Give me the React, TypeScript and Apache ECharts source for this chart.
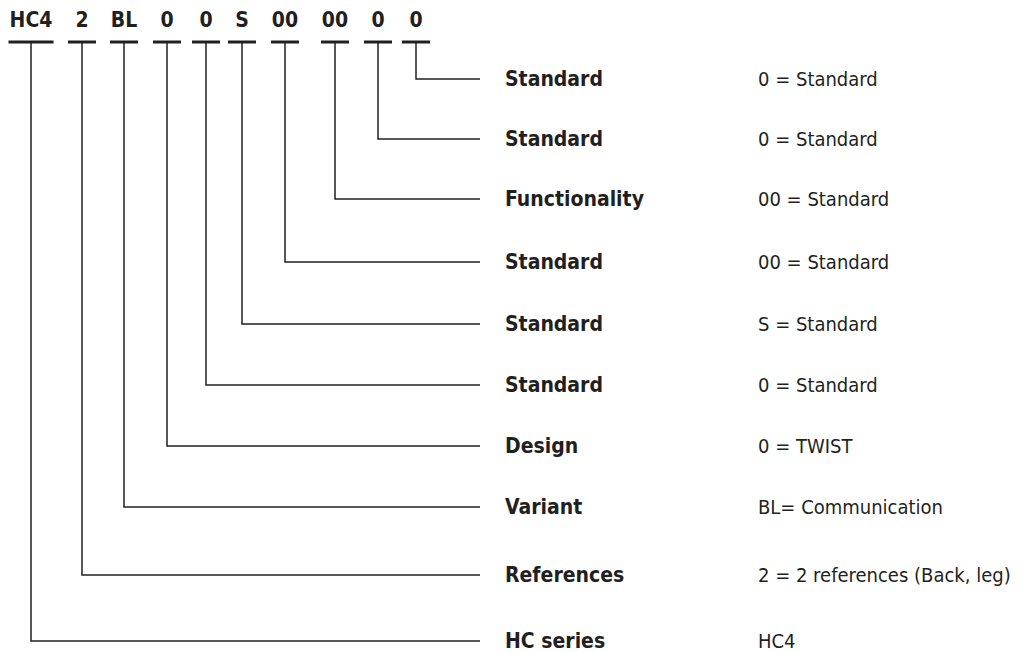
import React, { useEffect, useRef } from "react";
import * as echarts from "echarts";

// ---- data ----
const codes = ["HC4", "2", "BL", "0", "0", "S", "00", "00", "0", "0"];
const labels = [
  "HC series",
  "References",
  "Variant",
  "Design",
  "Standard",
  "Standard",
  "Standard",
  "Functionality",
  "Standard",
  "Standard",
];
const values = [
  "HC4",
  "2 = 2 references (Back, leg)",
  "BL= Communication",
  "0 = TWIST",
  "0 = Standard",
  "S = Standard",
  "00 = Standard",
  "00 = Standard",
  "0 = Standard",
  "0 = Standard",
];

// ---- layout (pixel-like units on hidden axes) ----
const W = 1023;
const H = 653;
const codeX = [31, 82, 124, 167, 206, 242, 285, 335, 378, 416];
const rowY = [641, 575, 507, 446, 385, 324, 262, 199, 139, 79];
const codeTextY = 20;
const underlineY = 42;
const lineEndX = 480;
const labelX = 505;
const valueX = 758;
const INK = "#231f20";
const FONT = "'Liberation Sans Narrow', 'DejaVu Sans Condensed', 'Roboto Condensed', 'Noto Sans', sans-serif";

export default function App() {
  const ref = useRef<HTMLDivElement>(null);

  useEffect(() => {
    if (!ref.current) return;
    const chart = echarts.init(ref.current, undefined, { renderer: "svg" });

    const renderItem = (params: any, api: any) => {
      const i = api.value(0);
      const code = codes[i];
      const cx = codeX[i];
      const ry = rowY[i];
      const half = code.length >= 3 ? 22.5 : 14;
      const pCode = api.coord([cx, codeTextY]);
      const pU1 = api.coord([cx - half, underlineY]);
      const pU2 = api.coord([cx + half, underlineY]);
      const pTop = api.coord([cx, underlineY]);
      const pCorner = api.coord([cx, ry]);
      const pEnd = api.coord([lineEndX, ry]);
      const pLabel = api.coord([labelX, ry]);
      const pValue = api.coord([valueX, ry]);
      return {
        type: "group",
        children: [
          {
            type: "text",
            x: pCode[0],
            y: pCode[1],
            style: {
              text: code,
              fontSize: 21,
              fontWeight: "bold",
              fontFamily: FONT,
              fill: INK,
              align: "center",
              verticalAlign: "middle",
            },
          },
          {
            type: "line",
            shape: { x1: pU1[0], y1: pU1[1], x2: pU2[0], y2: pU2[1] },
            style: { stroke: INK, lineWidth: 3 },
          },
          {
            type: "polyline",
            shape: { points: [pTop, pCorner, pEnd] },
            style: { stroke: INK, lineWidth: 1.5, fill: "none" },
          },
          {
            type: "text",
            x: pLabel[0],
            y: pLabel[1],
            style: {
              text: labels[i],
              fontSize: 21,
              fontWeight: "bold",
              fontFamily: FONT,
              fill: INK,
              align: "left",
              verticalAlign: "middle",
            },
          },
          {
            type: "text",
            x: pValue[0],
            y: pValue[1],
            style: {
              text: values[i],
              fontSize: 20,
              fontFamily: FONT,
              fill: INK,
              align: "left",
              verticalAlign: "middle",
            },
          },
        ],
      };
    };

    chart.setOption({
      animation: false,
      backgroundColor: "#ffffff",
      grid: { left: 0, right: 0, top: 0, bottom: 0 },
      xAxis: { type: "value", min: 0, max: W, show: false },
      yAxis: { type: "value", min: 0, max: H, inverse: true, show: false },
      series: [
        {
          type: "custom",
          coordinateSystem: "cartesian2d",
          clip: false,
          silent: true,
          renderItem,
          data: codes.map((_, i) => [i, 0]),
        },
      ],
    });

    return () => chart.dispose();
  }, []);

  return (
    <div
      ref={ref}
      style={{ position: "absolute", left: 0, top: 0, width: W, height: H, background: "#fff" }}
    />
  );
}
